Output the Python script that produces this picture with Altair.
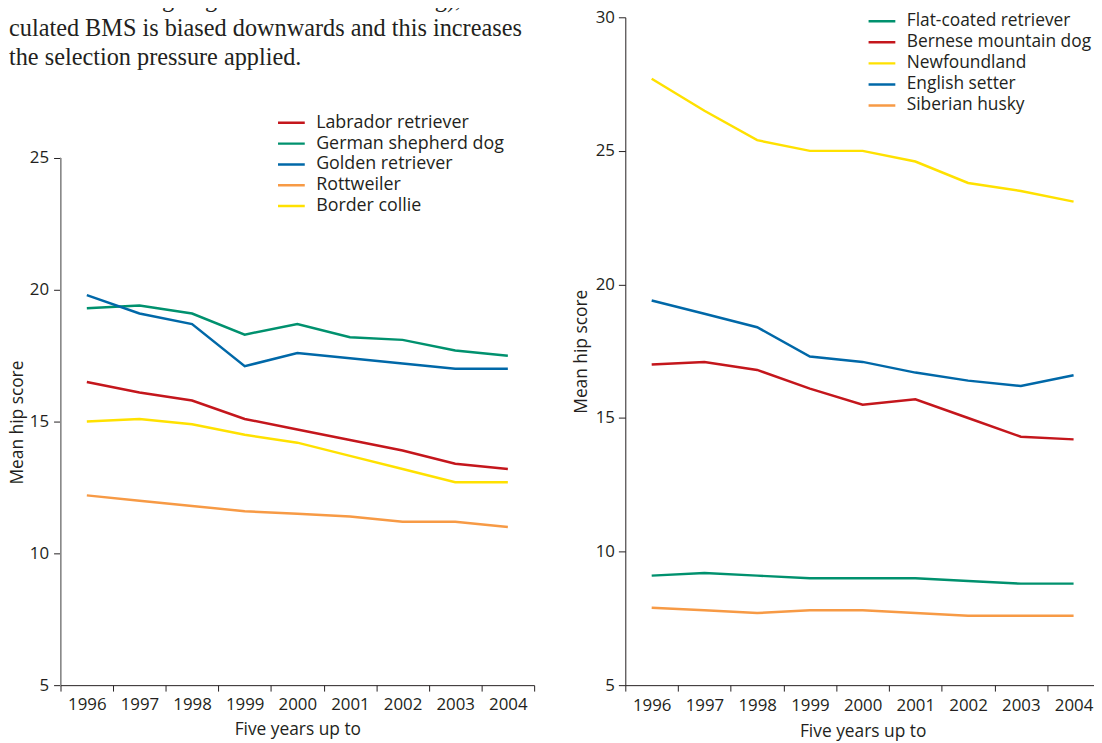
import altair as alt
import pandas as pd

YEARS = ["1996", "1997", "1998", "1999", "2000", "2001", "2002", "2003", "2004"]

LEFT_BREEDS = ["Labrador retriever", "German shepherd dog", "Golden retriever",
               "Rottweiler", "Border collie"]
LABRADOR = [16.5, 16.1, 15.8, 15.1, 14.7, 14.3, 13.9, 13.4, 13.2]
GERMAN_SHEPHERD = [19.3, 19.4, 19.1, 18.3, 18.7, 18.2, 18.1, 17.7, 17.5]
GOLDEN = [19.8, 19.1, 18.7, 17.1, 17.6, 17.4, 17.2, 17.0, 17.0]
ROTTWEILER = [12.2, 12.0, 11.8, 11.6, 11.5, 11.4, 11.2, 11.2, 11.0]
BORDER_COLLIE = [15.0, 15.1, 14.9, 14.5, 14.2, 13.7, 13.2, 12.7, 12.7]

RIGHT_BREEDS = ["Flat-coated retriever", "Bernese mountain dog", "Newfoundland",
                "English setter", "Siberian husky"]
FLAT_COATED = [9.1, 9.2, 9.1, 9.0, 9.0, 9.0, 8.9, 8.8, 8.8]
BERNESE = [17.0, 17.1, 16.8, 16.1, 15.5, 15.7, 15.0, 14.3, 14.2]
NEWFOUNDLAND = [27.7, 26.5, 25.4, 25.0, 25.0, 24.6, 23.8, 23.5, 23.1]
ENGLISH_SETTER = [19.4, 18.9, 18.4, 17.3, 17.1, 16.7, 16.4, 16.2, 16.6]
SIBERIAN = [7.9, 7.8, 7.7, 7.8, 7.8, 7.7, 7.6, 7.6, 7.6]

LEFT_COLORS = ["#c4161c", "#00916e", "#0068a8", "#f79a45", "#ffe100"]
RIGHT_COLORS = ["#00916e", "#c4161c", "#ffe100", "#0068a8", "#f79a45"]

PARAGRAPH = [
    "is therefore not going to be used for breeding), the cal-",
    "culated BMS is biased downwards and this increases",
    "the selection pressure applied.",
]

DARK = "#231f20"
SANS = "Open Sans"


def long_df(breeds, series):
    rows = []
    for b, vals in zip(breeds, series):
        for y, v in zip(YEARS, vals):
            rows.append({"year": y, "breed": b, "score": v})
    return pd.DataFrame(rows)


left_df = long_df(LEFT_BREEDS, [LABRADOR, GERMAN_SHEPHERD, GOLDEN, ROTTWEILER, BORDER_COLLIE])
right_df = long_df(RIGHT_BREEDS, [FLAT_COATED, BERNESE, NEWFOUNDLAND, ENGLISH_SETTER, SIBERIAN])
para_df = pd.DataFrame({"t": ["\n".join(PARAGRAPH)]})


def legend(x, y, size, row_pad):
    return alt.Legend(
        orient="none", legendX=x, legendY=y, title=None,
        symbolType="stroke", symbolSize=729, symbolStrokeWidth=2.5,
        clipHeight=17, rowPadding=row_pad, labelOffset=10, labelLimit=400,
        labelFont=SANS, labelFontSize=size, labelColor=DARK, padding=0,
    )


def x_enc(label_pad, title_y):
    return alt.X(
        "year:O",
        sort=YEARS,
        scale=alt.Scale(type="band", paddingInner=0, paddingOuter=0),
        axis=alt.Axis(
            title="Five years up to", tickBand="extent", labelAngle=0,
            tickSize=6, labelPadding=label_pad, titleY=title_y,
            titleBaseline="alphabetic",
        ),
    )


PLOT_H = 674

left_lines = alt.Chart(left_df).mark_line(strokeWidth=2.5).encode(
    x=x_enc(5.5, 49.5),
    y=alt.Y(
        "score:Q",
        scale=alt.Scale(domain=[5, 30.338], nice=False, zero=False),
        axis=alt.Axis(
            values=[5, 10, 15, 20, 25], domain=False, title="Mean hip score",
            titleX=-43.5, titleY=408.5, titleBaseline="middle", labelPadding=5,
        ),
    ),
    color=alt.Color("breed:N", scale=alt.Scale(domain=LEFT_BREEDS, range=LEFT_COLORS),
                    legend=legend(218, 98, 18, 2)),
)

left_axis_line = alt.Chart(left_df).mark_rule(color="#8a8a8a", strokeWidth=1).encode(
    x=alt.value(0),
    y=alt.datum(5),
    y2=alt.datum(25),
)

para = alt.Chart(para_df).mark_text(
    align="left", baseline="alphabetic", lineBreak="\n", lineHeight=29,
    font="Liberation Serif", fontSize=24.5, color=DARK,
).encode(x=alt.value(-52), y=alt.value(-10), text="t:N")

left = alt.layer(left_axis_line, left_lines, para).properties(width=478, height=PLOT_H)

right = alt.Chart(right_df).mark_line(strokeWidth=2.5).encode(
    x=x_enc(6.5, 51.5),
    y=alt.Y(
        "score:Q",
        scale=alt.Scale(domain=[5, 30], nice=False, zero=False),
        axis=alt.Axis(
            values=[5, 10, 15, 20, 25, 30], title="Mean hip score",
            titleX=-44, titleBaseline="middle", labelPadding=4,
        ),
    ),
    color=alt.Color("breed:N", scale=alt.Scale(domain=RIGHT_BREEDS, range=RIGHT_COLORS),
                    legend=legend(244, -4.5, 17.5, 3.25)),
).properties(width=479, height=PLOT_H)

chart = alt.hconcat(left, right, spacing=92, bounds="flush").resolve_scale(
    color="independent", x="independent", y="independent"
).properties(
    padding={"left": 0, "top": -24, "right": -7, "bottom": 0},
    background="white",
).configure_view(strokeWidth=0).configure_axis(
    labelFont=SANS, labelFontSize=17, labelColor=DARK,
    titleFont=SANS, titleFontSize=17.5, titleFontWeight="normal", titleColor=DARK,
    tickColor=DARK, domainColor=DARK, tickSize=7, tickWidth=1, domainWidth=1, grid=False,
)

chart.save("out.html", embed_options={"renderer": "svg", "actions": False})
